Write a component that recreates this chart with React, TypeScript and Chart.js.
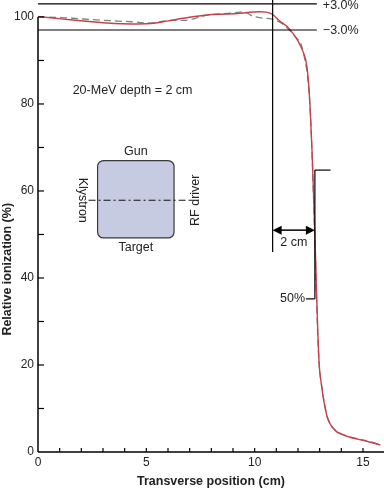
import React, { useEffect, useRef } from "react";
import { Chart, registerables } from "chart.js";

Chart.register(...registerables);

// Measured profile (solid red)
const measuredX = [0, 0.8, 1.6, 2.5, 3.5, 4.3, 5.2, 6.0, 6.7, 7.9, 9.2, 10.2, 10.55, 10.85, 11.1, 11.5, 11.8, 12.0, 12.25, 12.4, 12.5, 12.58, 12.65, 12.72, 12.78, 12.85, 12.92, 12.98, 13.08, 13.2, 13.35, 13.5, 13.75, 14.0, 14.4, 14.8, 15.3, 15.8];
const measuredY = [100.1, 99.7, 99.3, 98.9, 98.5, 98.4, 98.5, 99.1, 99.7, 100.5, 100.8, 101.2, 101.1, 100.5, 99.3, 97.8, 96.0, 94.5, 91.8, 89.0, 84.0, 77.0, 69.0, 59.0, 50.0, 38.0, 27.0, 20.0, 15.5, 11.5, 8.0, 6.3, 4.8, 4.1, 3.4, 2.9, 2.3, 1.6];

// Reference profile (dashed grey-green)
const referenceX = [0, 0.8, 1.6, 2.5, 3.5, 4.3, 5.2, 6.1, 6.7, 7.9, 9.0, 9.5, 9.9, 10.3, 10.8, 11.2, 11.6, 11.95, 12.1, 12.32, 12.47, 12.56, 12.63, 12.7, 12.77, 12.84, 12.91, 12.98, 13.08, 13.2, 13.35, 13.5, 13.75, 14.0, 14.4, 14.8, 15.3, 15.8];
const referenceY = [100.1, 99.9, 99.7, 99.4, 99.1, 98.9, 98.6, 99.2, 99.2, 100.5, 100.9, 101.2, 100.2, 99.8, 99.5, 98.7, 97.0, 95.0, 94.3, 90.1, 85.1, 79.0, 71.0, 61.0, 50.0, 38.0, 27.0, 20.0, 15.7, 11.8, 8.2, 6.4, 4.9, 4.2, 3.5, 3.0, 2.4, 1.7];

const xTickLabels = [0, 5, 10, 15];
const yTickLabels = [0, 20, 40, 60, 80, 100];
const xMinorTicks = [1, 2, 3, 4, 5, 6, 7, 8, 9, 10, 11, 12, 13, 14, 15];
const yMinorTicks = [10, 20, 30, 40, 50, 60, 70, 80, 90, 100];

// Tolerance band and annotations (data units)
const tolerancePlus = 103;
const toleranceMinus = 97;
const toleranceEndX = 12.87;
const fieldEdgeX = 10.83;
const fieldEdgeBottomY = 46;
const penumbraArrowY = 51;
const fiftyPercentX = 12.78;
const bracketTopY = 64.8;
const bracketBottomY = 35.2;
const bracketTopEndX = 13.5;
const bracketBottomStartX = 12.37;
const insetX = [2.75, 6.28];
const insetY = [49.2, 67];
const labelPos = { x: 1.6, y: 83 };

const FONT = "'Liberation Sans', Arial, Helvetica, sans-serif";

const annotationPlugin = {
  id: "annotations",
  afterDraw(chart: any) {
    const ctx = chart.ctx;
    const xs = chart.scales.x;
    const ys = chart.scales.y;
    const X = (v: number) => xs.getPixelForValue(v);
    const Y = (v: number) => ys.getPixelForValue(v);
    const area = chart.chartArea;
    ctx.save();
    ctx.strokeStyle = "#000";
    ctx.fillStyle = "#222";
    ctx.lineCap = "butt";

    const line = (x1: number, y1: number, x2: number, y2: number, w = 1.2) => {
      ctx.beginPath();
      ctx.lineWidth = w;
      ctx.moveTo(x1, y1);
      ctx.lineTo(x2, y2);
      ctx.stroke();
    };

    // axes
    line(X(0), Y(0), X(0), Y(100), 1.5);
    line(X(0), Y(0), area.right, Y(0), 1.5);
    // ticks (inward)
    yMinorTicks.forEach((v) => line(X(0), Y(v), X(0) + 6, Y(v), 1.2));
    xMinorTicks.forEach((v) => line(X(v), Y(0), X(v), Y(0) - 4, 1.2));

    // tolerance lines
    line(X(0), Y(tolerancePlus), X(toleranceEndX), Y(tolerancePlus), 1.2);
    line(X(0), Y(toleranceMinus), X(toleranceEndX), Y(toleranceMinus), 1.2);
    ctx.font = `12.5px ${FONT}`;
    ctx.textBaseline = "middle";
    ctx.textAlign = "left";
    ctx.fillText("+3.0%", X(toleranceEndX) + 6, Y(tolerancePlus) + 1.5);
    ctx.fillText("\u22123.0%", X(toleranceEndX) + 6, Y(toleranceMinus) + 0.5);

    // field edge vertical line
    line(X(fieldEdgeX), area.top, X(fieldEdgeX), Y(fieldEdgeBottomY), 1.2);

    // double arrow
    const ax1 = X(fieldEdgeX);
    const ax2 = X(fiftyPercentX);
    const ay = Y(penumbraArrowY);
    line(ax1 + 6, ay, ax2 - 6, ay, 1.5);
    ctx.fillStyle = "#000";
    ctx.beginPath();
    ctx.moveTo(ax1, ay);
    ctx.lineTo(ax1 + 9, ay - 4.5);
    ctx.lineTo(ax1 + 9, ay + 4.5);
    ctx.closePath();
    ctx.fill();
    ctx.beginPath();
    ctx.moveTo(ax2, ay);
    ctx.lineTo(ax2 - 9, ay - 4.5);
    ctx.lineTo(ax2 - 9, ay + 4.5);
    ctx.closePath();
    ctx.fill();
    ctx.fillStyle = "#222";
    ctx.textAlign = "center";
    ctx.fillText("2 cm", (ax1 + ax2) / 2, ay + 12);

    // 50% bracket
    line(X(fiftyPercentX), Y(bracketTopY), X(fiftyPercentX), Y(bracketBottomY), 1.2);
    line(X(fiftyPercentX), Y(bracketTopY), X(bracketTopEndX), Y(bracketTopY), 1.2);
    line(X(bracketBottomStartX), Y(bracketBottomY), X(fiftyPercentX), Y(bracketBottomY), 1.2);
    ctx.textAlign = "right";
    ctx.fillText("50%", X(bracketBottomStartX) - 1, Y(bracketBottomY));

    // energy / depth label
    ctx.textAlign = "left";
    ctx.fillText("20-MeV depth = 2 cm", X(labelPos.x), Y(labelPos.y));

    // inset diagram
    const rx = X(insetX[0]);
    const rw = X(insetX[1]) - rx;
    const ry = Y(insetY[1]);
    const rh = Y(insetY[0]) - ry;
    ctx.beginPath();
    ctx.roundRect(rx, ry, rw, rh, 6);
    ctx.fillStyle = "#c6cbe2";
    ctx.fill();
    ctx.lineWidth = 1.2;
    ctx.strokeStyle = "#3a3a3a";
    ctx.stroke();
    const cx = rx + rw / 2;
    const cy = ry + rh / 2 + 1;
    ctx.strokeStyle = "#111";
    ctx.setLineDash([7, 3, 2, 3]);
    line(rx - 9, cy, rx + rw + 16, cy, 1);
    ctx.setLineDash([]);
    ctx.fillStyle = "#222";
    ctx.textAlign = "center";
    ctx.fillText("Gun", cx, ry - 9);
    ctx.fillText("Target", cx, ry + rh + 10);
    ctx.save();
    ctx.translate(rx - 15, cy);
    ctx.rotate(Math.PI / 2);
    ctx.fillText("Klystron", 0, 0);
    ctx.restore();
    ctx.save();
    ctx.translate(rx + rw + 21, cy);
    ctx.rotate(-Math.PI / 2);
    ctx.fillText("RF driver", 0, 0);
    ctx.restore();

    // axis titles
    ctx.font = `bold 12.5px ${FONT}`;
    ctx.fillStyle = "#222";
    ctx.textAlign = "center";
    ctx.fillText("Transverse position (cm)", (area.left + area.right) / 2, Y(0) + 30);
    ctx.save();
    ctx.translate(8, Y(42));
    ctx.rotate(-Math.PI / 2);
    ctx.fillText("Relative ionization (%)", 0, 0);
    ctx.restore();

    ctx.restore();
  },
};

export default function App() {
  const canvasRef = useRef<HTMLCanvasElement | null>(null);

  useEffect(() => {
    const canvas = canvasRef.current;
    if (!canvas) return;
    const measured = measuredX.map((x, i) => ({ x, y: measuredY[i] }));
    const reference = referenceX.map((x, i) => ({ x, y: referenceY[i] }));
    const chart = new Chart(canvas, {
      type: "scatter",
      data: {
        datasets: [
          {
            label: "Measured",
            data: measured,
            showLine: true,
            borderColor: "#c5424d",
            borderWidth: 1.4,
            pointRadius: 0,
            cubicInterpolationMode: "monotone",
          },
          {
            label: "Reference",
            data: reference,
            showLine: true,
            borderColor: "#6f8c7a",
            borderWidth: 1.3,
            borderDash: [7, 4],
            pointRadius: 0,
            cubicInterpolationMode: "monotone",
          },
        ],
      },
      options: {
        animation: false,
        responsive: false,
        devicePixelRatio: 1,
        layout: { padding: 0, autoPadding: false },
        plugins: { legend: { display: false }, tooltip: { enabled: false } },
        scales: {
          x: {
            type: "linear",
            min: 0,
            max: 15.97,
            grid: { display: false, drawTicks: false },
            border: { display: false },
            ticks: {
              autoSkip: false,
              maxRotation: 0,
              padding: 3,
              color: "#222",
              font: { family: FONT, size: 12 },
            },
            afterBuildTicks: (scale: any) => {
              scale.ticks = xTickLabels.map((v) => ({ value: v }));
            },
            afterFit: (scale: any) => {
              scale.height = 37;
              scale.paddingLeft = 0;
              scale.paddingRight = 0;
            },
          },
          y: {
            type: "linear",
            min: 0,
            max: 103.9,
            grid: { display: false, drawTicks: false },
            border: { display: false },
            ticks: {
              autoSkip: false,
              padding: 4,
              color: "#222",
              font: { family: FONT, size: 12 },
            },
            afterBuildTicks: (scale: any) => {
              scale.ticks = yTickLabels.map((v) => ({ value: v }));
            },
            afterFit: (scale: any) => {
              scale.width = 38;
              scale.paddingTop = 0;
              scale.paddingBottom = 0;
            },
          },
        },
      },
      plugins: [annotationPlugin],
    } as any);
    return () => chart.destroy();
  }, []);

  return (
    <div style={{ position: "absolute", left: 0, top: 0, width: 384, height: 489, background: "#fff" }}>
      <canvas ref={canvasRef} width={384} height={489} style={{ display: "block", width: 384, height: 489 }} />
    </div>
  );
}
